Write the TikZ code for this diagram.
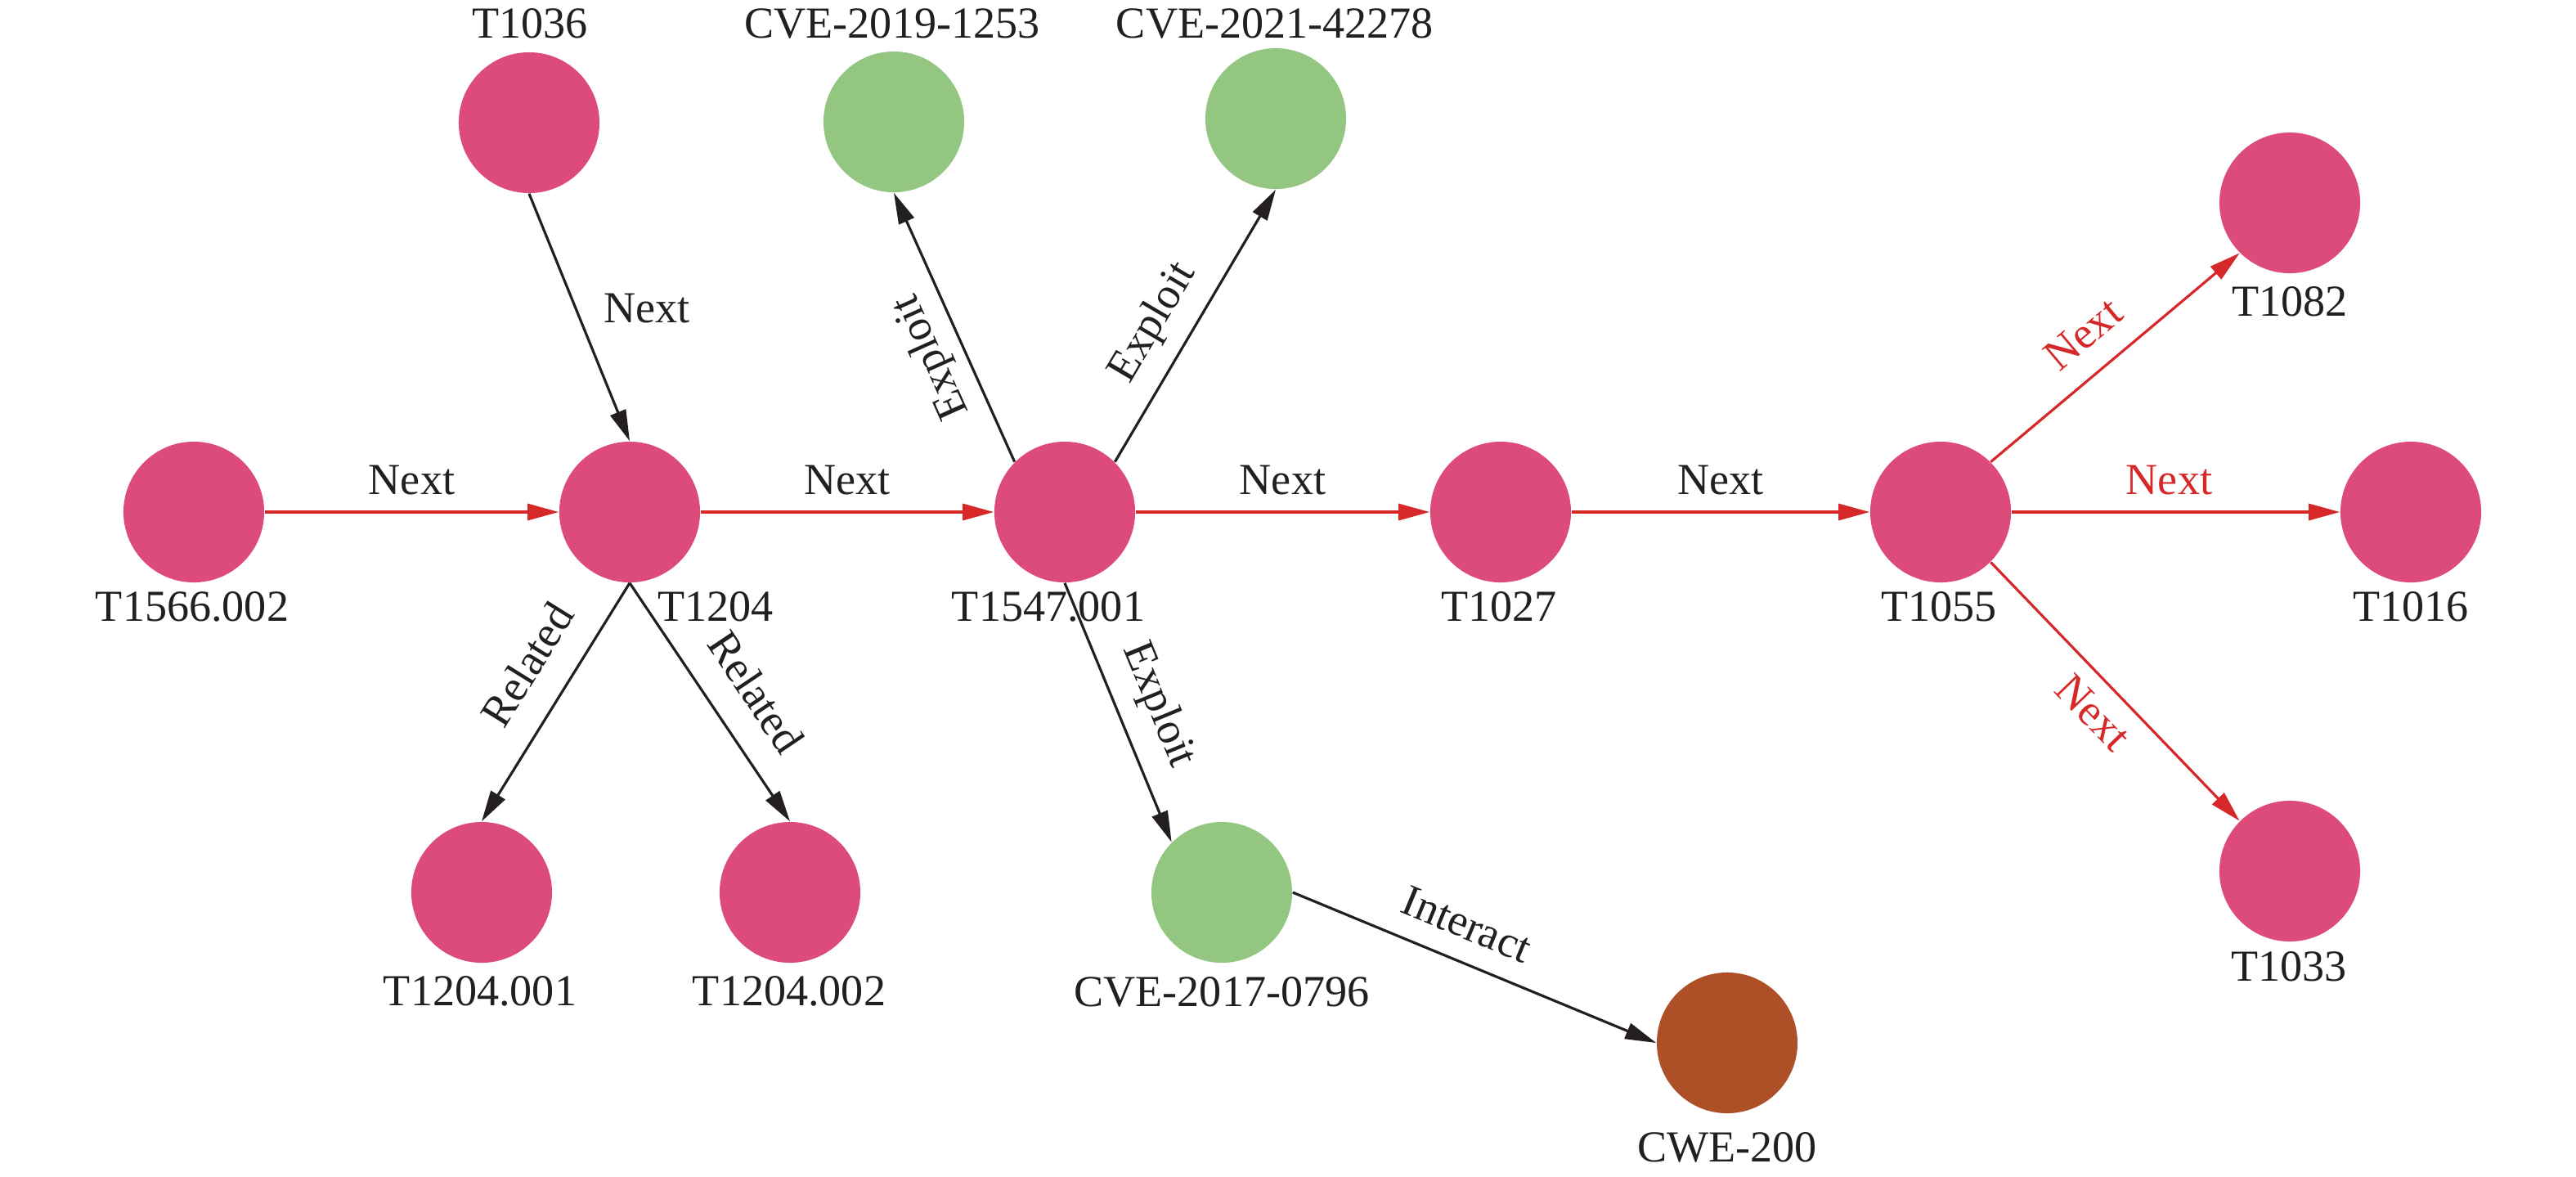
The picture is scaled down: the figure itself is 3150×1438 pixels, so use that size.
\documentclass[tikz,border=0pt]{standalone}
\usepackage{fontspec}
\setmainfont{Liberation Serif}
\usetikzlibrary{arrows.meta}
\definecolor{tpink}{RGB}{221,75,122}
\definecolor{cgreen}{RGB}{147,198,128}
\definecolor{wbrown}{RGB}{173,79,39}
\definecolor{nextred}{RGB}{214,40,40}
\definecolor{ink}{RGB}{35,31,32}
\begin{document}
\begin{tikzpicture}[x=0.01cm, y=-0.01cm,
  vnode/.style={circle, minimum size=1.72cm, inner sep=0pt, draw=none},
  tech/.style={vnode, fill=tpink},
  cve/.style={vnode, fill=cgreen},
  cwe/.style={vnode, fill=wbrown},
  lbl/.style={anchor=base, inner sep=0pt, text=ink, font=\fontsize{15.4pt}{18pt}\selectfont},
  elabel/.style={inner sep=0pt, text height=0.37cm, text depth=0.12cm, text=ink, font=\fontsize{15.4pt}{18pt}\selectfont},
  redlabel/.style={elabel, text=nextred},
  nextedge/.style={draw=nextred, line width=0.9pt, -{Triangle[length=0.38cm,width=0.2cm]}},
  relEdge/.style={draw=ink, line width=0.9pt, -{Triangle[length=0.38cm,width=0.2cm]}}
]
\useasboundingbox (0,0) rectangle (3150,1438);

% nodes
\node[tech] (t1036) at (647,150) {};
\node[cve]  (cve19) at (1093,149) {};
\node[cve]  (cve21) at (1560,145) {};
\node[tech] (t1082) at (2800,248) {};
\node[tech] (t1566) at (237,626) {};
\node[tech] (t1204) at (770,626) {};
\node[tech] (t1547) at (1302,626) {};
\node[tech] (t1027) at (1835,626) {};
\node[tech] (t1055) at (2373,626) {};
\node[tech] (t1016) at (2948,626) {};
\node[tech] (t1033) at (2800,1065) {};
\node[tech] (t1204a) at (589,1091) {};
\node[tech] (t1204b) at (966,1091) {};
\node[cve]  (cve17) at (1494,1091) {};
\node[cwe]  (cwe200) at (2112,1275) {};

% node names
\node[lbl] (n1036) at (648,46) {T1036};
\node[lbl] (n19) at (1091,46) {CVE-2019-1253};
\node[lbl] (n21) at (1559,46) {CVE-2021-42278};
\node[lbl] (n1082) at (2800,386) {T1082};
\node[lbl] (n1566) at (235,759) {T1566.002};
\node[lbl] (n1204) at (875,759) {T1204};
\node[lbl] (n1547) at (1282,759) {T1547.001};
\node[lbl] (n1027) at (1833,759) {T1027};
\node[lbl] (n1055) at (2371,759) {T1055};
\node[lbl] (n1016) at (2948,759) {T1016};
\node[lbl] (n1033) at (2799,1199) {T1033};
\node[lbl] (n1204a) at (587,1229) {T1204.001};
\node[lbl] (n1204b) at (965,1229) {T1204.002};
\node[lbl] (n17) at (1494,1230) {CVE-2017-0796};
\node[lbl] (n200) at (2112,1420) {CWE-200};

% main chain (red)
\draw[nextedge] (t1566.east) -- (t1204.west) node[elabel, midway, above=0.08cm] {Next};
\draw[nextedge] (t1204.east) -- (t1547.west) node[elabel, midway, above=0.08cm] {Next};
\draw[nextedge] (t1547.east) -- (t1027.west) node[elabel, midway, above=0.08cm] {Next};
\draw[nextedge] (t1027.east) -- (t1055.west) node[elabel, midway, above=0.08cm] {Next};
\draw[nextedge] (t1055.east) -- (t1016.west) node[redlabel, pos=0.48, above=0.08cm] {Next};
\draw[nextedge] (t1055.45) -- (t1082.225) node[redlabel, pos=0.47, sloped, above=0.16cm] {Next};
\draw[nextedge] (t1055.-45) -- (t1033.135) node[redlabel, pos=0.5, sloped, below=0.16cm] {Next};

% black edges
\draw[relEdge] (t1036.south) -- (t1204.north) node[elabel, pos=0.48, right=0.31cm] {Next};
\draw[relEdge] (t1547.135) -- (cve19.south) node[elabel, pos=0.44, sloped, allow upside down, above=0.13cm] {Exploit};
\draw[relEdge] (t1547.45) -- (cve21.south) node[elabel, pos=0.44, sloped, above=0.19cm] {Exploit};
\draw[relEdge] (t1547.south) -- (cve17.135) node[elabel, pos=0.53, sloped, above=0.22cm] {Exploit};
\draw[relEdge] (t1204.south) -- (t1204a.north) node[elabel, pos=0.44, sloped, above=0.22cm] {Related};
\draw[relEdge] (t1204.south) -- (t1204b.north) node[elabel, pos=0.56, sloped, above=0.22cm] {Related};
\draw[relEdge] (cve17.east) -- (cwe200.west) node[elabel, pos=0.44, sloped, above=0.14cm] {Interact};
\end{tikzpicture}
\end{document}
